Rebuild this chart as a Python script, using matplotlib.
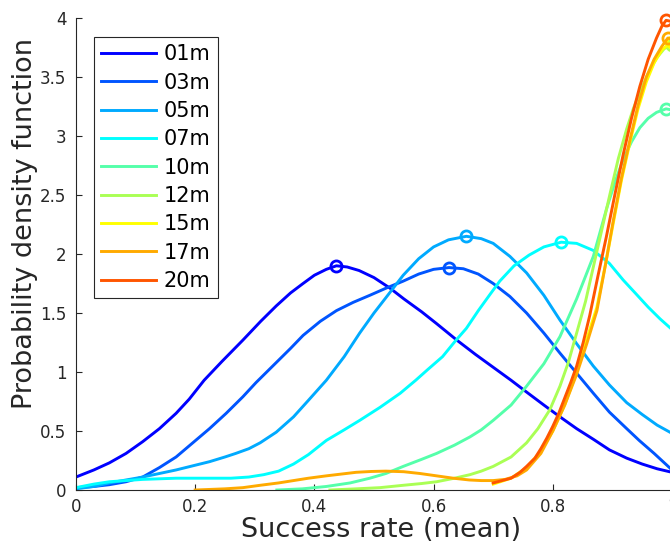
import numpy as np
import matplotlib
matplotlib.use("Agg")
import matplotlib.pyplot as plt
from matplotlib.ticker import FuncFormatter

# ---------- density curves per time window ----------------------------
labels = ["01m", "03m", "05m", "07m", "10m", "12m", "15m", "17m", "20m"]

x01 = [0, 0.03, 0.056, 0.084, 0.112, 0.14, 0.168, 0.19, 0.215, 0.245, 0.28,
       0.31, 0.336, 0.36, 0.381, 0.40, 0.42, 0.437, 0.455, 0.475, 0.50,
       0.527, 0.55, 0.58, 0.605, 0.639, 0.67, 0.70, 0.73, 0.756, 0.785,
       0.812, 0.84, 0.868, 0.895, 0.924, 0.95, 0.975, 1.0]
y01 = [0.11, 0.17, 0.23, 0.31, 0.41, 0.52, 0.65, 0.77, 0.93, 1.09, 1.27,
       1.43, 1.56, 1.67, 1.75, 1.82, 1.87, 1.90, 1.89, 1.86, 1.80,
       1.71, 1.62, 1.51, 1.41, 1.27, 1.15, 1.04, 0.93, 0.83, 0.72,
       0.62, 0.52, 0.43, 0.34, 0.27, 0.22, 0.18, 0.15]

x03 = [0, 0.03, 0.056, 0.084, 0.112, 0.14, 0.168, 0.196, 0.224, 0.252, 0.28,
       0.302, 0.336, 0.36, 0.381, 0.41, 0.437, 0.465, 0.493, 0.52, 0.549,
       0.575, 0.60, 0.626, 0.65, 0.675, 0.70, 0.728, 0.756, 0.785, 0.812,
       0.84, 0.868, 0.895, 0.924, 0.945, 0.97, 1.0]
y03 = [0.02, 0.03, 0.045, 0.07, 0.11, 0.19, 0.28, 0.40, 0.52, 0.65, 0.79,
       0.91, 1.08, 1.20, 1.31, 1.43, 1.52, 1.59, 1.65, 1.71, 1.77,
       1.83, 1.87, 1.885, 1.875, 1.83, 1.75, 1.64, 1.50, 1.33, 1.16,
       0.99, 0.82, 0.66, 0.52, 0.42, 0.31, 0.17]

x05 = [0, 0.03, 0.056, 0.084, 0.112, 0.14, 0.168, 0.196, 0.224, 0.25, 0.268,
       0.29, 0.309, 0.336, 0.365, 0.39, 0.42, 0.45, 0.476, 0.50, 0.52,
       0.549, 0.575, 0.60, 0.625, 0.655, 0.68, 0.70, 0.728, 0.756, 0.785,
       0.812, 0.84, 0.868, 0.895, 0.924, 0.95, 0.975, 1.0]
y05 = [0.01, 0.03, 0.06, 0.085, 0.11, 0.14, 0.17, 0.205, 0.24, 0.28, 0.31,
       0.35, 0.40, 0.49, 0.62, 0.76, 0.93, 1.13, 1.33, 1.50, 1.63,
       1.82, 1.96, 2.06, 2.12, 2.15, 2.13, 2.09, 1.98, 1.84, 1.65,
       1.44, 1.24, 1.05, 0.89, 0.74, 0.64, 0.55, 0.48]

x07 = [0, 0.03, 0.056, 0.084, 0.112, 0.168, 0.224, 0.26, 0.29, 0.315, 0.34,
       0.365, 0.39, 0.42, 0.45, 0.476, 0.51, 0.544, 0.57, 0.59, 0.615,
       0.636, 0.655, 0.675, 0.695, 0.711, 0.735, 0.76, 0.785, 0.814, 0.84,
       0.868, 0.895, 0.918, 0.94, 0.96, 0.98, 1.0]
y07 = [0.02, 0.05, 0.07, 0.08, 0.09, 0.10, 0.10, 0.10, 0.11, 0.13, 0.16,
       0.22, 0.30, 0.42, 0.51, 0.59, 0.70, 0.82, 0.93, 1.02, 1.13,
       1.26, 1.37, 1.52, 1.66, 1.77, 1.90, 1.99, 2.06, 2.10, 2.09,
       2.03, 1.92, 1.78, 1.66, 1.55, 1.45, 1.36]

x10 = [0.337, 0.38, 0.42, 0.46, 0.493, 0.52, 0.549, 0.58, 0.605, 0.635, 0.661,
       0.68, 0.70, 0.73, 0.756, 0.785, 0.812, 0.84, 0.868, 0.89, 0.905,
       0.918, 0.932, 0.946, 0.96, 0.974, 0.99, 1.0]
y10 = [0.0, 0.01, 0.03, 0.06, 0.10, 0.14, 0.20, 0.26, 0.31, 0.38, 0.45,
       0.51, 0.59, 0.72, 0.88, 1.07, 1.30, 1.62, 1.98, 2.38, 2.62,
       2.80, 2.95, 3.07, 3.15, 3.20, 3.23, 3.22]

x12 = [0.426, 0.47, 0.51, 0.549, 0.58, 0.605, 0.635, 0.661, 0.68, 0.70, 0.73,
       0.756, 0.775, 0.795, 0.812, 0.826, 0.84, 0.855, 0.868, 0.882, 0.896,
       0.91, 0.924, 0.935, 0.946, 0.96, 0.974, 0.987, 1.0]
y12 = [0.0, 0.01, 0.02, 0.04, 0.055, 0.07, 0.10, 0.13, 0.16, 0.20, 0.28,
       0.40, 0.52, 0.68, 0.88, 1.08, 1.33, 1.60, 1.89, 2.20, 2.51,
       2.81, 3.06, 3.23, 3.37, 3.53, 3.66, 3.74, 3.77]

x15 = [0.70, 0.73, 0.756, 0.78, 0.80, 0.82, 0.84, 0.857, 0.874, 0.888, 0.901,
       0.915, 0.93, 0.943, 0.957, 0.97, 0.983, 1.0]
y15 = [0.05, 0.10, 0.19, 0.33, 0.50, 0.72, 1.00, 1.28, 1.55, 1.90, 2.25,
       2.62, 2.96, 3.23, 3.46, 3.62, 3.73, 3.80]

x17 = [0.20, 0.25, 0.28, 0.309, 0.34, 0.365, 0.39, 0.42, 0.445, 0.47, 0.495,
       0.52, 0.55, 0.577, 0.605, 0.633, 0.66, 0.68, 0.70, 0.72, 0.74,
       0.756, 0.78, 0.80, 0.82, 0.84, 0.857, 0.874, 0.888, 0.901, 0.915,
       0.93, 0.943, 0.957, 0.97, 0.983, 0.993, 1.0]
y17 = [0.0, 0.01, 0.02, 0.04, 0.06, 0.08, 0.10, 0.12, 0.135, 0.15, 0.157,
       0.16, 0.155, 0.14, 0.12, 0.10, 0.085, 0.08, 0.08, 0.09, 0.12,
       0.17, 0.31, 0.50, 0.72, 0.98, 1.24, 1.52, 1.90, 2.27, 2.64,
       2.98, 3.26, 3.50, 3.65, 3.76, 3.83, 3.82]

x20 = [0.70, 0.715, 0.73, 0.745, 0.756, 0.77, 0.78, 0.79, 0.80, 0.81, 0.82,
       0.83, 0.84, 0.851, 0.862, 0.876, 0.89, 0.904, 0.918, 0.932, 0.946,
       0.96, 0.974, 0.983, 0.99, 1.0]
y20 = [0.06, 0.08, 0.10, 0.15, 0.20, 0.27, 0.35, 0.44, 0.54, 0.65, 0.78,
       0.91, 1.05, 1.25, 1.48, 1.82, 2.15, 2.50, 2.84, 3.15, 3.42,
       3.65, 3.83, 3.93, 3.98, 3.97]

xs = [x01, x03, x05, x07, x10, x12, x15, x17, x20]
ys = [y01, y03, y05, y07, y10, y12, y15, y17, y20]

# jet-style palette, blue -> red
colors = ["#0000FF", "#0055FF", "#00AAFF", "#00FFFF", "#55FFAA",
          "#AAFF55", "#FFFF00", "#FFAA00", "#FF5500"]

xticks = [0, 0.2, 0.4, 0.6, 0.8, 1.0]
yticks = [0, 0.5, 1, 1.5, 2, 2.5, 3, 3.5, 4]

INK = "#262626"

# ---------- plot -------------------------------------------------------
fig = plt.figure(figsize=(6.7, 5.45), dpi=100)
ax = fig.add_axes([0.1134, 0.1009, 0.8896, 0.8661])

for x, y, c, lab in zip(xs, ys, colors, labels):
    ax.plot(x, y, color=c, lw=2.1, label=lab, solid_joinstyle="round")
    k = int(np.argmax(y))
    ax.plot(x[k], y[k], "o", mfc="none", mec=c, mew=2.0, ms=8, clip_on=False)

ax.set_xlim(0, 1)
ax.set_ylim(0, 4)
ax.set_xticks(xticks)
ax.set_yticks(yticks)
fmt = FuncFormatter(lambda v, _: f"{v:g}")
ax.xaxis.set_major_formatter(fmt)
ax.yaxis.set_major_formatter(fmt)

for side in ("top", "right"):
    ax.spines[side].set_visible(False)
for side in ("left", "bottom"):
    ax.spines[side].set_color(INK)
    ax.spines[side].set_linewidth(0.8)
ax.tick_params(direction="in", length=4, width=0.8, color=INK,
               labelcolor=INK, labelsize=12, pad=7)
ax.tick_params(axis="x", pad=6)

ax.set_xlabel("Success rate (mean)", fontsize=19.5, color=INK)
ax.set_ylabel("Probability density function", fontsize=19.5, color=INK)
ax.xaxis.set_label_coords(0.512, -0.085)
ax.yaxis.set_label_coords(-0.086, 0.564)
ax.xaxis.label.set_va("center")
ax.yaxis.label.set_va("center")

leg = ax.legend(loc="upper left", bbox_to_anchor=(0.140, 0.932),
                bbox_transform=fig.transFigure, borderaxespad=0,
                fontsize=15, handlelength=2.65, handletextpad=0.35,
                labelspacing=0.4, borderpad=0.35, fancybox=False,
                framealpha=1, edgecolor=INK)
leg.get_frame().set_linewidth(0.8)
for t in leg.get_texts():
    t.set_color("black")

fig.savefig("out.png", dpi=100)
